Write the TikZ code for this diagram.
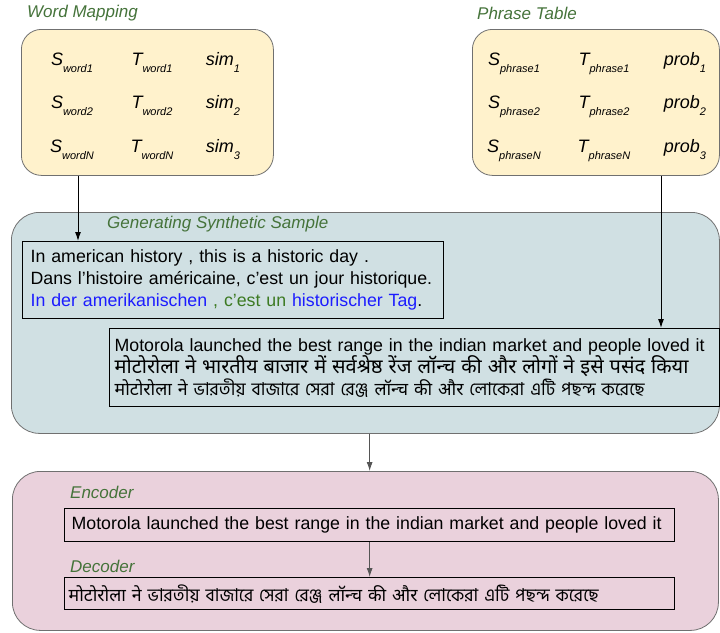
\documentclass[tikz,border=0pt]{standalone}
\usepackage{fontspec}
\setmainfont{Liberation Sans}
\newfontfamily\devafont[Script=Devanagari]{Noto Sans}
\newfontfamily\bengfont[Script=Bengali]{Hind Siliguri}
\usetikzlibrary{arrows.meta,positioning}

\definecolor{mapfill}{HTML}{FFF2CC}
\definecolor{synthfill}{HTML}{D0E0E3}
\definecolor{modelfill}{HTML}{EAD1DC}
\definecolor{framegray}{HTML}{707070}
\definecolor{arrowgray}{HTML}{555555}
\definecolor{labelgreen}{HTML}{45733A}
\definecolor{textblue}{HTML}{1C1CFF}
\definecolor{textgreen}{HTML}{3C7A22}

\newcommand{\lowsub}[1]{\raisebox{-7pt}{\fontsize{11}{11}\selectfont #1}}
\newcommand{\bodysize}{\fontsize{17.75}{22}\selectfont}
\newcommand{\oneline}[1]{\mbox{#1}}
\newcommand{\hindi}[1]{{\devafont\fontsize{20}{24}\selectfont #1}}

\tikzset{
  panel/.style={draw=framegray, line width=0.8pt, anchor=north west, inner sep=0pt},
  sample/.style={draw=black, line width=1.3pt, anchor=north west, inner xsep=8pt,
    inner ysep=0pt, align=left, font=\bodysize},
  paneltitle/.style={anchor=west, inner sep=0pt, text=labelgreen,
    font=\fontsize{17}{17}\selectfont\itshape},
  cell/.style={anchor=base, inner sep=0pt, font=\fontsize{18}{18}\selectfont\itshape},
  feed/.style={-{Latex[length=9pt,width=6pt]}, line width=1pt},
}

\begin{document}
\begin{tikzpicture}[x=1pt,y=-1pt]
\useasboundingbox (0,0) rectangle (720,632);

% word mapping and phrase table
\node[panel, fill=mapfill, rounded corners=20pt, minimum width=252, minimum height=146] (wordmap) at (21,29) {};
\node[panel, fill=mapfill, rounded corners=20pt, minimum width=247, minimum height=146] (phrasetab) at (472,29) {};
\node[paneltitle] (wordtitle) at (27,13) {Word Mapping};
\node[paneltitle] (phrasetitle) at (477,13) {Phrase Table};

\foreach \r/\y/\s in {1/65/1, 2/108/2, 3/152/N} {
  \node[cell] (ws\r) at (72,\y) {S\lowsub{word\s}};
  \node[cell] (wt\r) at (152,\y) {T\lowsub{word\s}};
  \node[cell] (wp\r) at (223,\y) {sim\lowsub{\r}};
  \node[cell] (ps\r) at (514,\y) {S\lowsub{phrase\s}};
  \node[cell] (pt\r) at (604,\y) {T\lowsub{phrase\s}};
  \node[cell] (pp\r) at (685,\y) {prob\lowsub{\r}};
}

% synthetic samples
\node[panel, fill=synthfill, rounded corners=28pt, minimum width=708, minimum height=221] (synth) at (11,212) {};
\node[paneltitle] (synthtitle) at (107,224) {Generating Synthetic Sample};
\node[sample, text width=405, minimum height=77] (pair) at (22,241)
  {\oneline{In american history , this is a historic day .}\\
   \oneline{Dans l'histoire américaine, c'est un jour historique.}\\
   \oneline{\textcolor{textblue}{In der amerikanischen}\ \textcolor{textgreen}{, c'est un}
   \textcolor{textblue}{historischer Tag}.}};
\node[sample, text width=600, inner xsep=5pt, minimum height=78] (mixed) at (109,328)
  {\oneline{Motorola launched the best range in the indian market and people loved it}\\
   \oneline{\hindi{मोटोरोला ने भारतीय बाजार में सर्वश्रेष्ठ रेंज लॉन्च की और लोगों ने इसे पसंद किया}}\\
   \oneline{{\devafont मोटोरोला ने} {\bengfont ভারতীয় বাজারে সেরা রেঞ্জ} {\devafont लॉन्च की और} {\bengfont লোকেরা এটি পছন্দ করেছে}}};

% encoder / decoder
\node[panel, fill=modelfill, rounded corners=28pt, minimum width=706, minimum height=159] (model) at (12,471) {};
\node[paneltitle] (enctitle) at (70,492) {Encoder};
\node[sample, text width=596, inner xsep=7pt, minimum height=33] (enc) at (64,508)
  {\oneline{Motorola launched the best range in the indian market and people loved it}};
\node[paneltitle] (dectitle) at (70,566) {Decoder};
\node[sample, text width=602, inner xsep=4pt, minimum height=32] (dec) at (64,577)
  {\oneline{{\devafont मोटोरोला ने} {\bengfont ভারতীয় বাজারে সেরা রেঞ্জ} {\devafont लॉन्च की और} {\bengfont লোকেরা এটি পছন্দ করেছে}}};

% connectors
\coordinate (wordfoot) at ([xshift=57pt]wordmap.south west);
\coordinate (phrasefoot) at ([xshift=189pt]phrasetab.south west);
\draw[feed] (wordfoot) -- (wordfoot |- pair.north);
\draw[feed] (phrasefoot) -- (phrasefoot |- mixed.north);
\draw[feed, draw=arrowgray, line width=0.9pt] (enc.north |- synth.south) -- (enc.north |- model.north);
\draw[feed, draw=arrowgray, line width=0.9pt] (enc.south) -- (dec.north);
\end{tikzpicture}
\end{document}
